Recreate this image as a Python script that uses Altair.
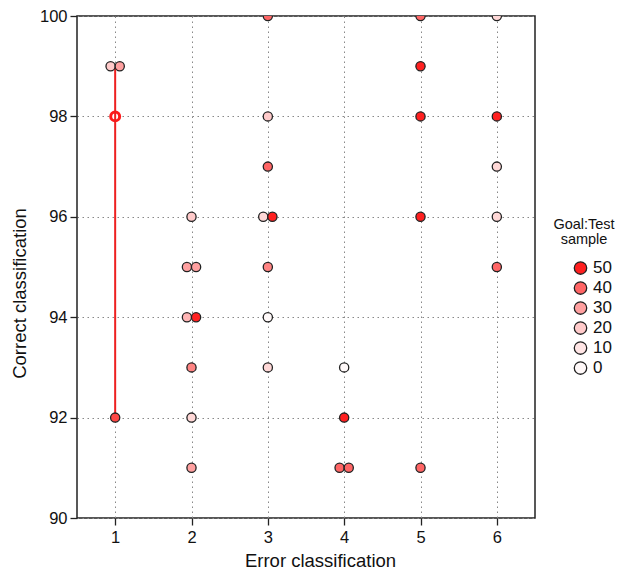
import altair as alt
import pandas as pd

# Data
err_class = [1.0 - 0.06, 1.0 + 0.06, 1,
             2, 2 - 0.06, 2 + 0.06, 2 - 0.06, 2 + 0.06, 2, 2, 2,
             3, 3, 3, 3 - 0.06, 3 + 0.06, 3, 3, 3,
             4, 4, 4 - 0.06, 4 + 0.06,
             5, 5, 5, 5, 5,
             6, 6, 6, 6, 6]
correct_class = [99, 99, 92,
                 96, 95, 95, 94, 94, 93, 92, 91,
                 100, 98, 97, 96, 96, 95, 94, 93,
                 93, 92, 91, 91,
                 100, 99, 98, 96, 91,
                 100, 98, 97, 96, 95]
goal_test = [20, 30, 45,
             20, 30, 30, 25, 50, 35, 15, 30,
             40, 20, 40, 15, 50, 35, 0, 15,
             0, 50, 40, 40,
             40, 50, 50, 50, 40,
             15, 50, 15, 15, 40]

ring_x = [1]
ring_y = [98]

range_x = [1]
range_low = [92]
range_high = [99]

legend_values = [50, 40, 30, 20, 10, 0]
color_domain = [0, 10, 20, 30, 40, 50]
color_range = ["#ffffff", "#ffe5e5", "#ffcaca", "#ffa0a0", "#ff6565", "#ff2020"]

y_ticks = [90, 92, 94, 96, 98, 100]
x_ticks = [1, 2, 3, 4, 5, 6]

df = pd.DataFrame({"err": err_class, "cor": correct_class, "goal": goal_test})
ring_df = pd.DataFrame({"err": ring_x, "cor": ring_y})
range_df = pd.DataFrame({"err": range_x, "lo": range_low, "hi": range_high})

FONT = "Liberation Sans"

x_enc = alt.X("err:Q",
              scale=alt.Scale(domain=[0.5, 6.5], nice=False, zero=False),
              axis=alt.Axis(values=x_ticks, title="Error classification", format="d",
                            titlePadding=6, labelPadding=4, titleX=243))
y_enc = alt.Y("cor:Q",
              scale=alt.Scale(domain=[90, 100], nice=False, zero=False),
              axis=alt.Axis(values=y_ticks, title="Correct classification", format="d",
                            titlePadding=10, labelPadding=3, titleY=277))

ring = alt.Chart(ring_df).mark_circle(
    size=80, fill="#ffffff", stroke="#ff1a1a", strokeWidth=3, opacity=1
).encode(x=x_enc, y=y_enc)

line = alt.Chart(range_df).mark_rule(color="#ee2020", strokeWidth=2).encode(
    x=alt.X("err:Q"), y=alt.Y("lo:Q"), y2="hi:Q"
)

pts = alt.Chart(df).mark_circle(
    size=85, stroke="#222222", strokeWidth=1.3, opacity=1, clip=True
).encode(
    x=x_enc, y=y_enc,
    color=alt.Color("goal:Q",
                    scale=alt.Scale(domain=color_domain, range=color_range),
                    legend=alt.Legend(
                        title=["Goal:Test", "sample"],
                        type="symbol",
                        values=legend_values,
                        orient="none",
                        legendX=476, legendY=202,
                        symbolType="circle",
                        symbolSize=155,
                        symbolStrokeColor="#222222",
                        symbolStrokeWidth=1.3,
                        symbolOffset=15,
                        labelFontSize=17,
                        labelFont=FONT,
                        labelColor="#111111",
                        labelOffset=4,
                        rowPadding=1,
                        titleFontSize=14.5,
                        titleFont=FONT,
                        titleFontWeight="normal",
                        titleColor="#111111",
                        titleAnchor="middle",
                        titleAlign="center",
                        titleLineHeight=15,
                        titlePadding=12,
                    ))
)

chart = alt.layer(ring, line, pts).properties(
    width=458, height=502,
    autosize=alt.AutoSizeParams(type="none"),
    padding={"left": 77, "top": 16, "right": 88, "bottom": 59},
).configure_view(
    stroke="#222222", strokeWidth=1.5
).configure_axis(
    domain=False,
    grid=True,
    gridColor="#888888",
    gridDash=[1.5, 3.5],
    gridWidth=1,
    ticks=True,
    tickColor="#222222",
    tickSize=7,
    tickWidth=1.3,
    labelFont=FONT,
    labelFontSize=16.5,
    labelColor="#111111",
    titleFont=FONT,
    titleFontSize=18.5,
    titleFontWeight="normal",
    titleColor="#111111",
)

chart.save("out.html", embed_options={"renderer": "svg", "actions": False})
